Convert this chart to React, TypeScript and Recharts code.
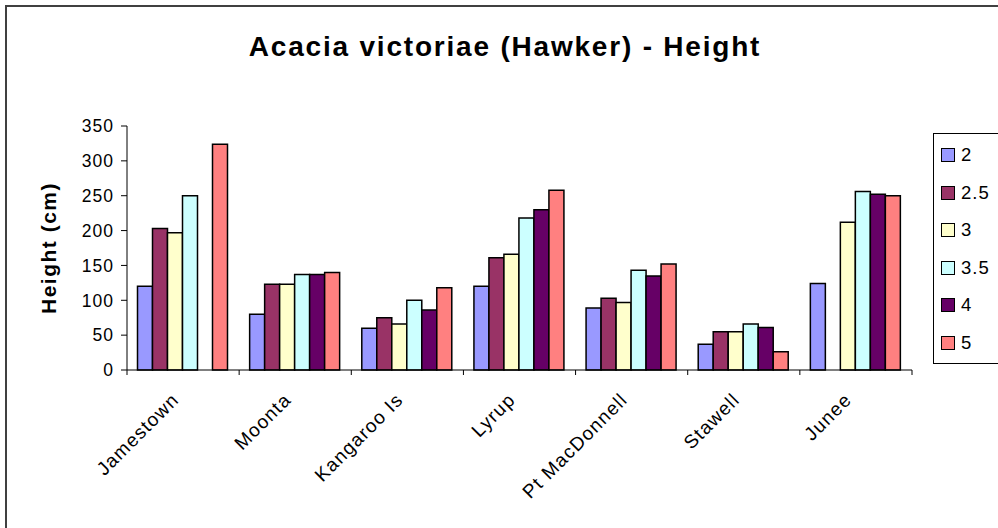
import React from 'react';
import { BarChart, Bar, XAxis, YAxis, Legend, Label } from 'recharts';

const categories = ['Jamestown', 'Moonta', 'Kangaroo Is', 'Lyrup', 'Pt MacDonnell', 'Stawell', 'Junee'];
const seriesNames = ['2', '2.5', '3', '3.5', '4', '5'];
const seriesColors = ['#9999FF', '#993366', '#FFFFCC', '#CCFFFF', '#660066', '#FF8080'];
const values2 = [120, 80, 60, 120, 89, 37, 124];
const values2_5 = [203, 123, 75, 161, 103, 55, null];
const values3 = [197, 123, 66, 166, 97, 55, 212];
const values3_5 = [250, 137, 100, 218, 143, 66, 256];
const values4 = [null, 137, 86, 230, 135, 61, 252];
const values5 = [324, 140, 118, 258, 152, 26, 250];
const yTicks = [0, 50, 100, 150, 200, 250, 300, 350];

const allSeries = [values2, values2_5, values3, values3_5, values4, values5];
const seriesKeys = ['s2', 's2_5', 's3', 's3_5', 's4', 's5'];

const data = categories.map((name, i) => {
  const row: any = { name };
  seriesKeys.forEach((k, j) => {
    row[k] = allSeries[j][i];
  });
  return row;
});

const FONT = '"Liberation Sans", Arial, sans-serif';
const W = 998;
const H = 528;
const MARGIN = { top: 126, right: 86, bottom: 0, left: 0 };
const Y_W = 127;
const X_H = 158;
const BAND = (W - MARGIN.right - Y_W) / categories.length;

function XTick(props: any) {
  const { x, y, payload, index } = props;
  const ax = x - 3;
  const ay = y + 31;
  return (
    <g>
      <line x1={x - BAND / 2} x2={x - BAND / 2} y1={y} y2={y + 5} stroke="#000" />
      {index === categories.length - 1 && (
        <line x1={x + BAND / 2} x2={x + BAND / 2} y1={y} y2={y + 5} stroke="#000" />
      )}
      <text
        x={ax}
        y={ay}
        transform={`rotate(-45 ${ax} ${ay})`}
        textAnchor="end"
        fontSize={19}
        fontFamily={FONT}
        fill="#000"
        style={{ letterSpacing: 1.2 }}
      >
        {payload.value}
      </text>
    </g>
  );
}

function YTick(props: any) {
  const { x, y, payload } = props;
  return (
    <text
      x={x + 1}
      y={y}
      dy="0.36em"
      textAnchor="end"
      fontSize={17.5}
      fontFamily={FONT}
      fill="#000"
      style={{ letterSpacing: 1 }}
    >
      {payload.value}
    </text>
  );
}

function YLabel(props: any) {
  const vb = props.viewBox;
  const cx = vb.x + 48;
  const cy = vb.y + vb.height / 2;
  return (
    <text
      x={cx}
      y={cy}
      transform={`rotate(-90 ${cx} ${cy})`}
      textAnchor="middle"
      dominantBaseline="central"
      fontSize={21}
      fontWeight="bold"
      fontFamily={FONT}
      fill="#000"
      style={{ letterSpacing: 1.5 }}
    >
      Height (cm)
    </text>
  );
}

function LegendBox(props: any) {
  const payload = props.payload || [];
  return (
    <div
      style={{
        position: 'relative',
        width: 90,
        height: 231,
        border: '1px solid #000',
        boxSizing: 'border-box',
        background: '#fff',
      }}
    >
      {payload.map((p: any, i: number) => (
        <div
          key={i}
          style={{
            position: 'absolute',
            left: 7,
            top: 21 - 11 + i * 37.6,
            height: 22,
            display: 'flex',
            alignItems: 'center',
          }}
        >
          <div
            style={{
              width: 14,
              height: 14,
              background: p.color,
              border: '1.5px solid #000',
              boxSizing: 'border-box',
            }}
          />
          <span
            style={{
              marginLeft: 6,
              fontSize: 18.5,
              fontFamily: FONT,
              letterSpacing: 1,
              color: '#000',
              lineHeight: '22px',
            }}
          >
            {p.value}
          </span>
        </div>
      ))}
    </div>
  );
}

export default function App() {
  return (
    <div
      style={{
        position: 'absolute',
        left: 0,
        top: 0,
        width: W,
        height: H,
        overflow: 'hidden',
        background: '#fff',
      }}
    >
      <div
        style={{
          position: 'absolute',
          left: 5,
          top: 5,
          width: W + 20,
          height: H + 20,
          borderLeft: '2px solid #404040',
          borderTop: '2px solid #404040',
        }}
      />
      <BarChart
        width={W}
        height={H}
        data={data}
        margin={MARGIN}
        barCategoryGap={10.5}
        barGap={0}
        style={{ position: 'absolute', left: 0, top: 0 }}
      >
        <XAxis
          xAxisId="top"
          orientation="top"
          dataKey="name"
          height={0}
          tick={false}
          tickLine={false}
          axisLine={{ stroke: '#999', strokeWidth: 1.5 }}
        />
        <YAxis
          yAxisId="right"
          orientation="right"
          width={0}
          domain={[0, 350]}
          tick={false}
          tickLine={false}
          axisLine={{ stroke: '#999', strokeWidth: 1.5 }}
        />
        <YAxis
          width={Y_W}
          domain={[0, 350]}
          ticks={yTicks}
          interval={0}
          tickSize={6}
          tickMargin={8}
          tick={<YTick />}
          tickLine={{ stroke: '#000' }}
          axisLine={{ stroke: '#000' }}
        >
          <Label content={<YLabel />} />
        </YAxis>
        {seriesKeys.map((k, j) => (
          <Bar
            key={k}
            dataKey={k}
            name={seriesNames[j]}
            fill={seriesColors[j]}
            stroke="#000"
            strokeWidth={1.5}
            isAnimationActive={false}
          />
        ))}
        <XAxis
          dataKey="name"
          height={X_H}
          interval={0}
          tickSize={0}
          tickMargin={0}
          tickLine={false}
          tick={<XTick />}
          axisLine={{ stroke: '#000' }}
        />
        <Legend
          layout="vertical"
          align="center"
          verticalAlign="middle"
          content={<LegendBox />}
          wrapperStyle={{ position: 'absolute', left: 933, top: 133, width: 90, height: 231 }}
        />
      </BarChart>
      <svg
        width={W}
        height={H}
        style={{ position: 'absolute', left: 0, top: 0, pointerEvents: 'none' }}
      >
        <text
          x={505}
          y={56}
          textAnchor="middle"
          fontSize={28}
          fontWeight="bold"
          fontFamily={FONT}
          fill="#000"
          style={{ letterSpacing: 1.8 }}
        >
          Acacia victoriae (Hawker) - Height
        </text>
      </svg>
    </div>
  );
}
